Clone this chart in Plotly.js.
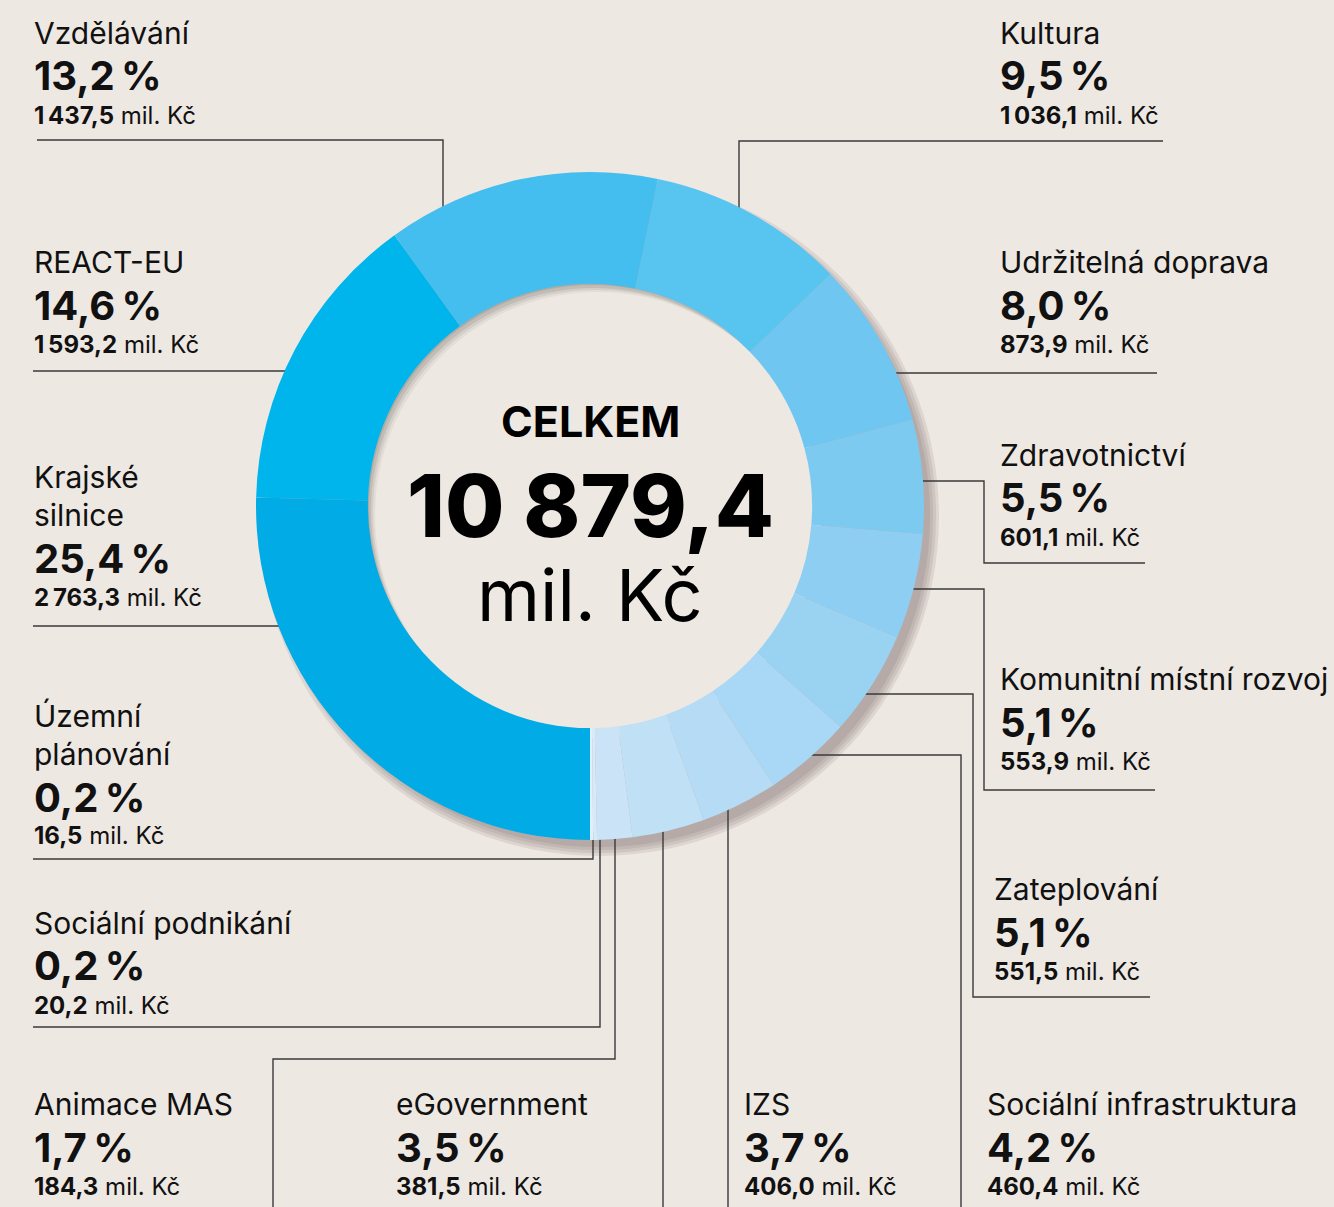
<!DOCTYPE html>
<html>
<head>
<meta charset="utf-8">
<script src="https://cdn.plot.ly/plotly-3.0.1.min.js"></script>
<style>
html,body{margin:0;padding:0;background:#EEE8E3;}
#chart{width:1334px;height:1207px;}
</style>
</head>
<body>
<div id="chart"></div>
<script>
// ---- DATA (pie order, clockwise from 6 o'clock) ----
const categories = ["Krajské<br>silnice", "REACT-EU", "Vzdělávání", "Kultura", "Udržitelná doprava",
  "Zdravotnictví", "Komunitní místní rozvoj", "Zateplování", "Sociální infrastruktura", "IZS",
  "eGovernment", "Animace MAS", "Sociální podnikání", "Územní<br>plánování"];
const amounts = [2763.3, 1593.2, 1437.5, 1036.1, 873.9, 601.1, 553.9, 551.5, 460.4, 406.0, 381.5, 184.3, 20.2, 16.5];
const percents = [25.4, 14.6, 13.2, 9.5, 8.0, 5.5, 5.1, 5.1, 4.2, 3.7, 3.5, 1.7, 0.2, 0.2];
const colors = ["#00ABE6", "#00B5EC", "#43BEEE", "#58C4F0", "#6FC6F0", "#7DCAF1", "#8ECEF2",
  "#9AD2F2", "#A8D8F5", "#B5DBF5", "#C0E0F6", "#CBE3F7", "#D7EAF9", "#E2EEF9"];
const centerTitle = "CELKEM";
const unit = "mil. Kč";

// ---- LAYOUT HELPERS ----
const W = 1334, H = 1207;
const X = p => p / W;
const Y = p => 1 - p / H;
const BG = "#EEE8E3";
const FONT = "Inter, 'Noto Sans', sans-serif";
const INK = "#111111";

function fmt(v) {
  const s = v.toFixed(1).split(".");
  const i = s[0].replace(/\B(?=(\d{3})+(?!\d))/g, "\u2009");
  return i + "," + s[1];
}
function fmtBig(v) {
  const s = v.toFixed(1).split(".");
  const i = s[0].replace(/\B(?=(\d{3})+(?!\d))/g, " ");
  return i + "," + s[1];
}

// label block anchors [x, y of first name line] in pixels (layout only)
const labelPos = [[33, 477], [33, 262], [33, 33], [999, 33], [999, 262], [999, 455], [999, 679],
  [993, 889], [986, 1104], [743, 1104], [395, 1104], [33, 1104], [33, 923], [33, 716]];

const annotations = [];
function addText(x, y, text, size, weight) {
  annotations.push({
    xref: "paper", yref: "paper", x: X(x), y: Y(y), xanchor: "left", yanchor: "middle",
    text: text, showarrow: false, borderpad: 0, align: "left",
    font: {family: FONT, size: size, color: INK, weight: weight}
  });
}
categories.forEach((name, i) => {
  const [x, y0] = labelPos[i];
  const lines = name.split("<br>");
  lines.forEach((ln, k) => addText(x, y0 + k * 38, ln, 30, 400));
  const yl = y0 + (lines.length - 1) * 38;
  addText(x, yl + 43, percents[i].toFixed(1).replace(".", ",") + "\u2009%", 40, 700);
  addText(x, yl + 82, "<b>" + fmt(amounts[i]) + "</b> " + unit, 24, 400);
});

const total = amounts.reduce((a, b) => a + b, 0);
function addCenter(y, text, size, weight) {
  annotations.push({
    xref: "paper", yref: "paper", x: X(590), y: Y(y), xanchor: "center", yanchor: "middle",
    text: text, showarrow: false, borderpad: 0,
    font: {family: FONT, size: size, color: "#000", weight: weight}
  });
}
addCenter(421, centerTitle, 43, 700);
addCenter(506, fmtBig(total), 86, 800);
addCenter(594, unit, 72, 400);

// ---- SHAPES: shadows and leader lines ----
const shapes = [];
function circle(cx, cy, r, fill) {
  shapes.push({type: "circle", xref: "paper", yref: "paper", layer: "below",
    x0: X(cx - r), x1: X(cx + r), y0: Y(cy + r), y1: Y(cy - r),
    fillcolor: fill, line: {width: 0}});
}
// outer soft shadow (towards bottom-right)
[340, 337, 334, 331].forEach(r => circle(599, 516, r, "rgba(95,85,80,0.12)"));
// inner (hole) shadow
circle(590, 506, 223, "#B0AAA5");
circle(592, 508, 223, "#C2BCB7");
circle(594, 511, 223, "#D4CEC9");
circle(596, 513, 223, "#E3DDD8");
circle(598, 515, 223, BG);

function path(pts) {
  let d = "";
  pts.forEach((p, k) => { d += (k ? " L" : "M") + X(p[0]) + "," + Y(p[1]); });
  shapes.push({type: "path", xref: "paper", yref: "paper", layer: "below", path: d,
    line: {color: "#3A3A3A", width: 1.4}});
}
path([[37, 140], [443, 140], [443, 220]]);
path([[33, 371], [300, 371]]);
path([[33, 626], [292, 626]]);
path([[33, 859], [593, 859], [593, 832]]);
path([[33, 1027], [600, 1027], [600, 832]]);
path([[273, 1207], [273, 1059], [615, 1059], [615, 832]]);
path([[663, 1207], [663, 822]]);
path([[728, 1207], [728, 800]]);
path([[961, 1207], [961, 755], [800, 755]]);
path([[1163, 141], [739, 141], [739, 220]]);
path([[1157, 373], [885, 373]]);
path([[912, 481], [984, 481], [984, 563], [1145, 563]]);
path([[900, 589], [984, 589], [984, 790], [1155, 790]]);
path([[850, 694], [973, 694], [973, 997], [1150, 997]]);

const data = [{
  type: "pie",
  labels: categories,
  values: amounts,
  sort: false,
  direction: "clockwise",
  rotation: 180,
  hole: 0.665,
  marker: {colors: colors, line: {width: 0}},
  textinfo: "none",
  hoverinfo: "skip",
  showlegend: false,
  domain: {x: [X(256), X(924)], y: [Y(840), Y(172)]}
}];

const layout = {
  width: W, height: H,
  margin: {l: 0, r: 0, t: 0, b: 0},
  paper_bgcolor: BG, plot_bgcolor: BG,
  showlegend: false,
  annotations: annotations,
  shapes: shapes
};

Plotly.newPlot("chart", data, layout, {displayModeBar: false, staticPlot: true});
</script>
</body>
</html>
